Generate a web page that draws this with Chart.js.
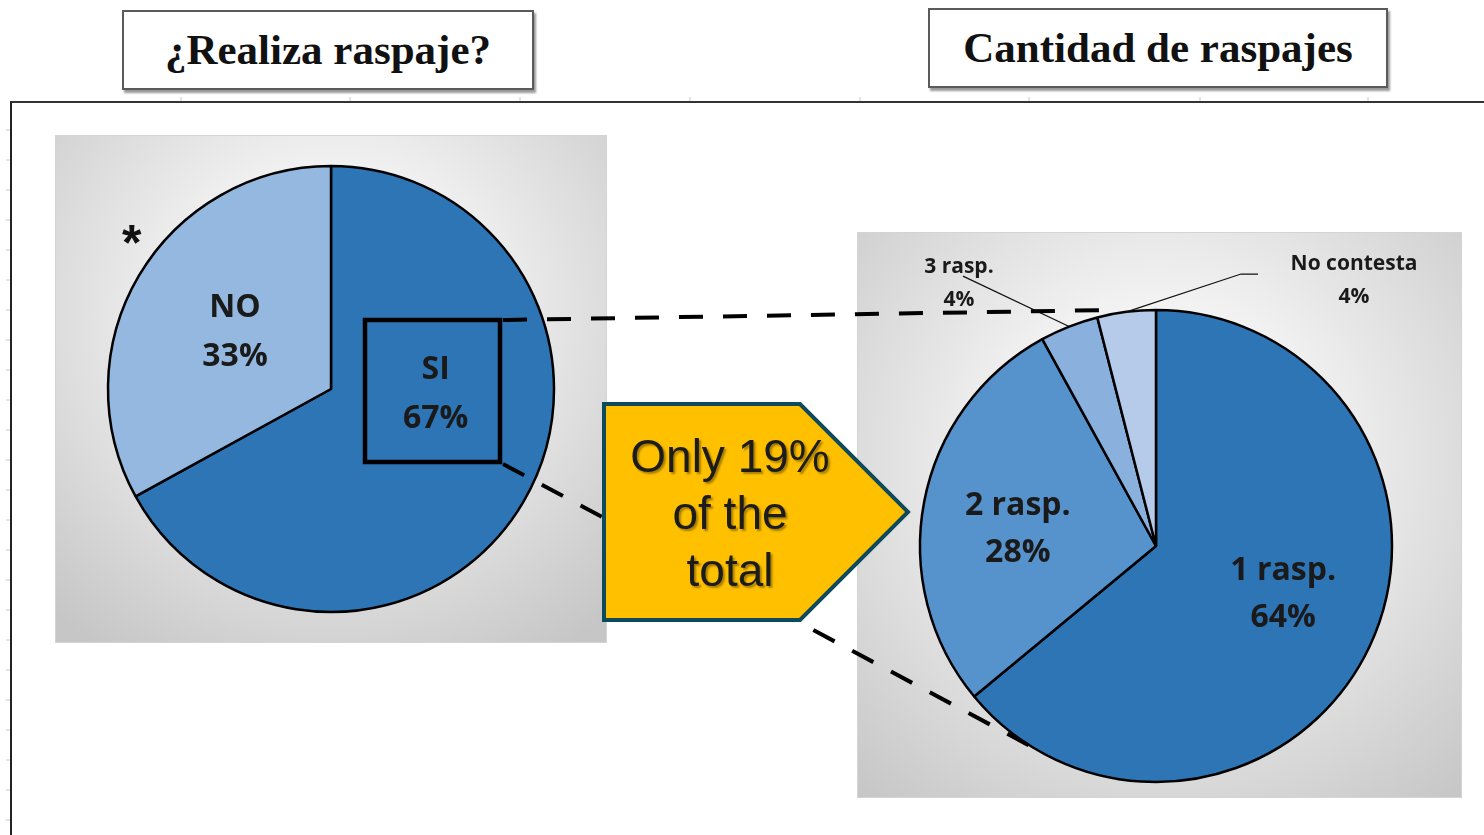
<!DOCTYPE html>
<html lang="es">

<head>
    <meta charset="UTF-8">
    <title>Raspaje</title>
    <style>
        body {
            margin: 0;
            width: 1484px;
            height: 835px;
            background: #fff;
            position: relative;
            overflow: hidden;
            font-family: "Liberation Sans", Arial, sans-serif;
        }

        .title {
            position: absolute;
            box-sizing: border-box;
            border: 2px solid #5a5a5a;
            box-shadow: 2px 3px 2px #9a9a9a;
            background: #fff;
            font-family: "Liberation Serif", "Times New Roman", serif;
            font-weight: bold;
            font-size: 43px;
            color: #111;
            text-align: center;
            line-height: 76px;
        }

        .frame {
            position: absolute;
            left: 10px;
            top: 101px;
            width: 1480px;
            height: 740px;
            border-left: 2px solid #222;
            border-top: 2px solid #333;
        }

        .panel {
            position: absolute;
            box-sizing: border-box;
            border: 1px solid #d4d4d4;
        }

        #leftPanel {
            left: 55px;
            top: 135px;
            width: 552px;
            height: 508px;
            background: radial-gradient(ellipse 75% 80% at 50% 35%, #ffffff 0%, #f2f2f2 35%, #c6c6c6 100%);
        }

        #rightPanel {
            left: 857px;
            top: 232px;
            width: 605px;
            height: 566px;
            background: radial-gradient(ellipse 75% 80% at 50% 40%, #ffffff 0%, #f2f2f2 35%, #c6c6c6 100%);
        }

        canvas {
            position: absolute;
            left: 0;
            top: 0;
        }

        svg {
            position: absolute;
            left: 0;
            top: 0;
        }

        .star {
            position: absolute;
            left: 122px;
            top: 214px;
            font-family: "Liberation Sans", Arial, sans-serif;
            font-size: 50px;
            font-weight: bold;
            color: #111;
        }

        .note {
            position: absolute;
            left: 604px;
            top: 428px;
            width: 252px;
            text-align: center;
            font-family: "Liberation Sans", Arial, sans-serif;
            font-size: 46px;
            line-height: 57px;
            color: #1c1c1c;
            text-shadow: 2px 2px 2px rgba(0, 0, 0, 0.35);
        }
    </style>
</head>

<body>

    <div class="title" style="left:122px; top:10px; width:412px; height:80px;">¿Realiza raspaje?</div>
    <div class="title" style="left:928px; top:8px; width:460px; height:80px;">Cantidad de raspajes</div>

    <div class="frame"></div>

    <div class="panel" id="leftPanel"><canvas id="pieLeft" width="552" height="508"></canvas></div>
    <div class="panel" id="rightPanel"><canvas id="pieRight" width="605" height="566"></canvas></div>

    <div class="star">*</div>

    <svg width="1484" height="835">
        <!-- marcas de regla en el marco -->
        <g stroke="#c8c8c8" stroke-width="1" id="ticks"></g>
        <!-- recuadro sobre SI y lineas de zoom -->
        <rect x="365" y="320" width="135" height="142" fill="none" stroke="#000" stroke-width="4.5" />
        <line x1="503" y1="320" x2="1112" y2="310" stroke="#000" stroke-width="4" stroke-dasharray="24 20" />
        <line x1="503" y1="464" x2="1032" y2="747" stroke="#000" stroke-width="4" stroke-dasharray="24 20" />
        <polygon points="604,404 800,404 908,512 800,620 604,620" fill="#FFC000" stroke="#0F4A5C" stroke-width="4"
            stroke-linejoin="miter" />
    </svg>

    <div class="note">Only 19%<br>of the<br>total</div>

    <script src="https://cdn.jsdelivr.net/npm/chart.js"></script>

    <script>
        // ¿Realiza raspaje?
        const realizaLabels = ['SI', 'NO'];
        const realizaValues = [67, 33];
        const realizaColors = ['#2E75B6', '#95B8E0'];

        // Cantidad de raspajes
        const cantidadLabels = ['1 rasp.', '2 rasp.', '3 rasp.', 'No contesta'];
        const cantidadValues = [64, 28, 4, 4];
        const cantidadColors = ['#2E75B6', '#5692CB', '#8AB0DD', '#B5CBE9'];

        // ruler ticks on the frame
        const ticks = document.getElementById('ticks');
        for (let y = 130; y < 835; y += 30) {
            const t = document.createElementNS('http://www.w3.org/2000/svg', 'line');
            t.setAttribute('x1', 6); t.setAttribute('x2', 10);
            t.setAttribute('y1', y); t.setAttribute('y2', y);
            ticks.appendChild(t);
        }
        [181, 350, 520, 690, 860, 1029, 1200, 1368].forEach(x => {
            const t = document.createElementNS('http://www.w3.org/2000/svg', 'line');
            t.setAttribute('x1', x); t.setAttribute('x2', x);
            t.setAttribute('y1', 97); t.setAttribute('y2', 101);
            ticks.appendChild(t);
        });

        // labels inside / outside the slices
        const sliceLabels = {
            id: 'sliceLabels',
            afterDatasetsDraw(chart, args, opts) {
                const ctx = chart.ctx;
                const arcs = chart.getDatasetMeta(0).data;
                const labels = chart.data.labels;
                const values = chart.data.datasets[0].data;
                arcs.forEach((arc, i) => {
                    const p = opts.place[i];
                    const { x, y, startAngle, endAngle, outerRadius } =
                        arc.getProps(['x', 'y', 'startAngle', 'endAngle', 'outerRadius'], true);
                    const mid = (startAngle + endAngle) / 2;
                    let tx, ty;
                    ctx.save();
                    if (p.outside) {
                        tx = x + p.dx * outerRadius;
                        ty = y + p.dy * outerRadius;
                        // leader line to the middle of the arc edge
                        ctx.strokeStyle = '#111';
                        ctx.lineWidth = 1.2;
                        ctx.beginPath();
                        ctx.moveTo(tx + p.lead[0][0], ty + p.lead[0][1]);
                        for (let k = 1; k < p.lead.length; k++) {
                            ctx.lineTo(tx + p.lead[k][0], ty + p.lead[k][1]);
                        }
                        ctx.lineTo(x + Math.cos(mid) * outerRadius, y + Math.sin(mid) * outerRadius);
                        ctx.stroke();
                    } else {
                        const a = mid + (p.turn || 0) * Math.PI / 180;
                        tx = x + Math.cos(a) * outerRadius * p.r;
                        ty = y + Math.sin(a) * outerRadius * p.r;
                    }
                    ctx.fillStyle = '#1a1a1a';
                    ctx.font = opts.font[p.outside ? 1 : 0];
                    ctx.textAlign = 'center';
                    ctx.textBaseline = 'middle';
                    const gap = opts.gap[p.outside ? 1 : 0];
                    ctx.fillText(labels[i], tx, ty - gap / 2);
                    ctx.fillText(values[i] + '%', tx, ty + gap / 2);
                    ctx.restore();
                });
            }
        };

        const bigFont = 'bold 32px "Open Sans", sans-serif';
        const smallFont = 'bold 21px "Open Sans", sans-serif';

        new Chart(document.getElementById('pieLeft'), {
            type: 'pie',
            data: {
                labels: realizaLabels,
                datasets: [{
                    data: realizaValues,
                    backgroundColor: realizaColors,
                    borderColor: '#000',
                    borderWidth: 2.5
                }]
            },
            options: {
                responsive: false,
                animation: false,
                radius: 223,
                layout: { padding: { left: 0, right: 2, top: 0, bottom: 2 } },
                plugins: {
                    legend: { display: false },
                    tooltip: { enabled: false },
                    sliceLabels: {
                        font: [bigFont],
                        gap: [49],
                        place: [{ r: 0.47, turn: -27.5 }, { r: 0.5 }]
                    }
                }
            },
            plugins: [sliceLabels]
        });

        new Chart(document.getElementById('pieRight'), {
            type: 'pie',
            data: {
                labels: cantidadLabels,
                datasets: [{
                    data: cantidadValues,
                    backgroundColor: cantidadColors,
                    borderColor: '#000',
                    borderWidth: 2.5
                }]
            },
            options: {
                responsive: false,
                animation: false,
                radius: 236,
                layout: { padding: { left: 0, right: 9, top: 60, bottom: 0 } },
                plugins: {
                    legend: { display: false },
                    tooltip: { enabled: false },
                    sliceLabels: {
                        font: [bigFont, smallFont],
                        gap: [47, 33],
                        place: [
                            { r: 0.576, turn: -4.5 },
                            { r: 0.59, turn: -3.8 },
                            { outside: true, dx: -0.835, dy: -1.114, lead: [[4, -7]] },
                            { outside: true, dx: 0.839, dy: -1.127, lead: [[-96, -6], [-113, -6]] }
                        ]
                    }
                }
            },
            plugins: [sliceLabels]
        });
    </script>

</body>

</html>
